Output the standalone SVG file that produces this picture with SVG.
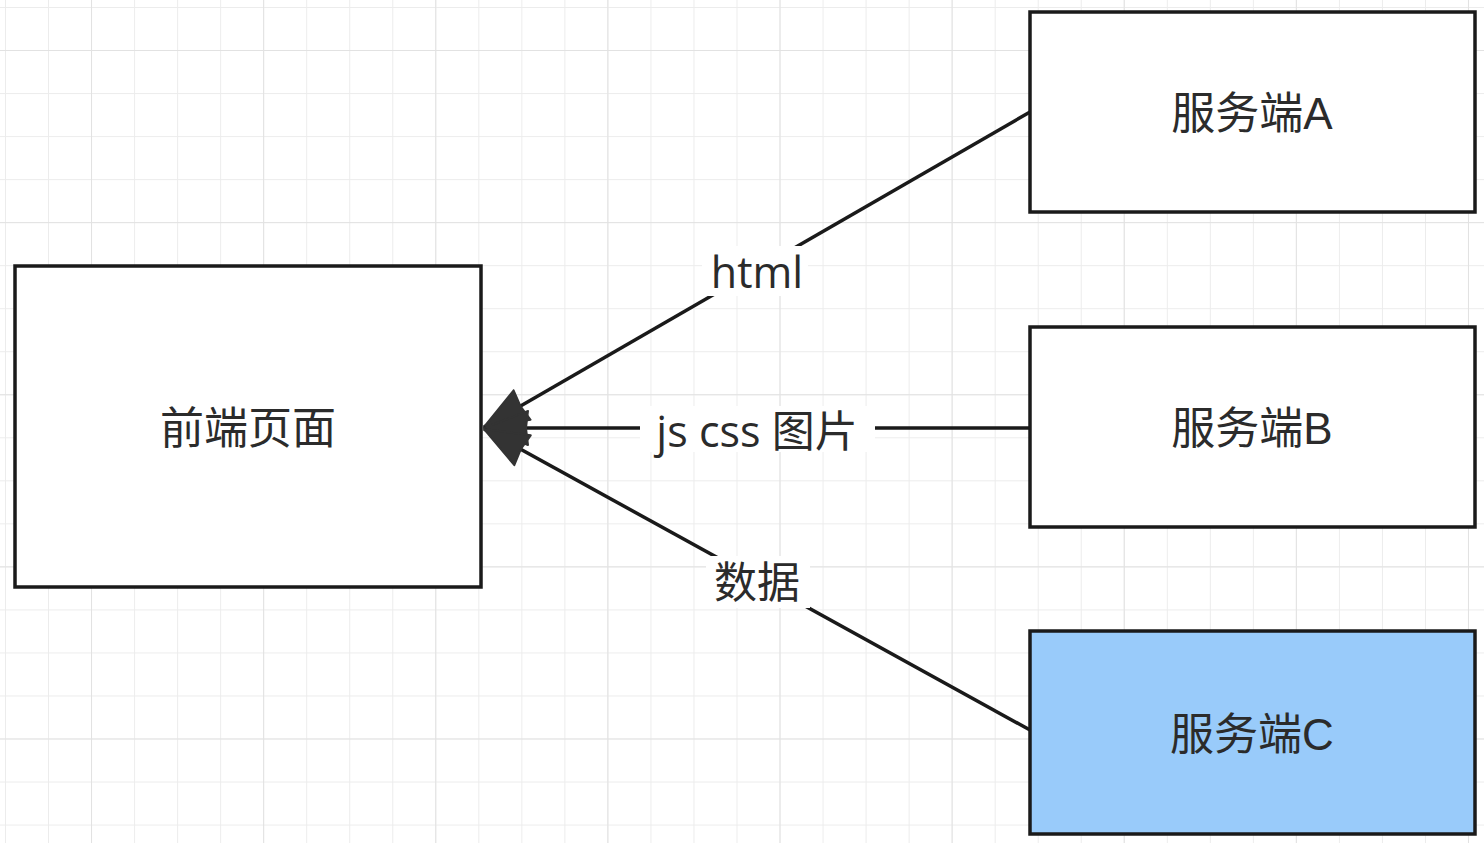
<svg xmlns="http://www.w3.org/2000/svg" width="1484" height="843" viewBox="0 0 1484 843">
  <style>
    .node { stroke: #1a1a1a; stroke-width: 3.5; }
    .ntext { font-family: "Liberation Sans", "Noto Sans CJK SC", sans-serif; font-size: 44px; fill: #2b2b2b; text-anchor: middle; dominant-baseline: central; }
    .edge { stroke: #1a1a1a; stroke-width: 3.5; fill: none; }
    .etext { font-family: "Open Sans", "Noto Sans CJK SC", sans-serif; font-size: 43px; fill: #2b2b2b; text-anchor: middle; dominant-baseline: central; }
    .lbg { fill: #ffffff; }
  </style>
  <defs>
    <pattern id="minor" x="5" y="7" width="43.03" height="43.03" patternUnits="userSpaceOnUse">
      <path d="M 0 0 L 43.03 0 M 0 0 L 0 43.03" stroke="#ececec" stroke-width="2" fill="none"/>
    </pattern>
    <pattern id="major" x="91" y="50" width="172.12" height="172.12" patternUnits="userSpaceOnUse">
      <path d="M 0 0 L 172.12 0 M 0 0 L 0 172.12" stroke="#e2e2e2" stroke-width="2" fill="none"/>
    </pattern>
    <marker id="arrow" markerUnits="userSpaceOnUse" viewBox="-50 -20 55 40" refX="0" refY="0" markerWidth="55" markerHeight="40" orient="auto">
      <path d="M 0 0 L -44 -17 L -42 0 L -44 17 Z" fill="#333333" stroke="#333333" stroke-width="2" stroke-linejoin="round"/>
    </marker>
  </defs>

  <rect x="0" y="0" width="1484" height="843" fill="#ffffff"/>
  <rect x="0" y="0" width="1484" height="843" fill="url(#minor)"/>
  <rect x="0" y="0" width="1484" height="843" fill="url(#major)"/>

  <g id="connectors">
    <line class="edge" x1="1030" y1="112" x2="484" y2="427" marker-end="url(#arrow)"/>
    <line class="edge" x1="1030" y1="428" x2="484" y2="428" marker-end="url(#arrow)"/>
    <line class="edge" x1="1030" y1="730" x2="484" y2="429" marker-end="url(#arrow)"/>
    <rect class="lbg" x="702" y="246" width="106" height="50"/>
    <text class="etext" x="757" y="271">html</text>
    <rect class="lbg" x="640" y="406" width="235" height="46"/>
    <text class="etext" x="757" y="430">js css 图片</text>
    <rect class="lbg" x="706" y="556" width="104" height="52"/>
    <text class="etext" x="757" y="581">数据</text>
  </g>

  <g id="frontend">
    <rect class="node" x="15" y="266" width="466" height="321" fill="#ffffff"/>
    <text class="ntext" x="248" y="428">前端页面</text>
  </g>
  <g id="serverA">
    <rect class="node" x="1030" y="12" width="445" height="200" fill="#ffffff"/>
    <text class="ntext" x="1252" y="113">服务端A</text>
  </g>
  <g id="serverB">
    <rect class="node" x="1030" y="327" width="445" height="200" fill="#ffffff"/>
    <text class="ntext" x="1252" y="428">服务端B</text>
  </g>
  <g id="serverC">
    <rect class="node" x="1030" y="631" width="445" height="203" fill="#99cbfa"/>
    <text class="ntext" x="1252" y="734">服务端C</text>
  </g>
</svg>
